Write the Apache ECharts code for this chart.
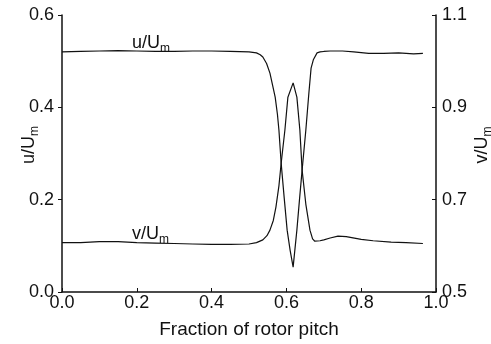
<!DOCTYPE html>
<html>
<head>
<meta charset="utf-8">
<style>
  html, body { margin: 0; padding: 0; background: #fff; }
  #chart { width: 491px; height: 344px; }
</style>
<script src="https://cdn.jsdelivr.net/npm/echarts@6/dist/echarts.min.js"></script>
</head>
<body>
<div id="chart"></div>
<script>
// Axial velocity u/Um across one rotor pitch (left axis)
const uPitch = [0.00, 0.05, 0.10, 0.15, 0.20, 0.25, 0.30, 0.35, 0.40, 0.45, 0.50, 0.52,
  0.530, 0.537, 0.547, 0.556, 0.563, 0.570, 0.576, 0.580, 0.586, 0.594, 0.602, 0.610, 0.618,
  0.628, 0.635, 0.642, 0.652, 0.660, 0.666, 0.672, 0.682, 0.69, 0.70, 0.717, 0.75, 0.78,
  0.82, 0.86, 0.90, 0.94, 0.965];
const uValues = [0.520, 0.521, 0.522, 0.523, 0.522, 0.521, 0.521, 0.522, 0.522, 0.521, 0.520, 0.518,
  0.514, 0.509, 0.495, 0.474, 0.448, 0.422, 0.385, 0.351, 0.279, 0.205, 0.134, 0.090, 0.054,
  0.134, 0.200, 0.264, 0.351, 0.430, 0.485, 0.503, 0.518, 0.520, 0.521, 0.522, 0.522, 0.520,
  0.517, 0.517, 0.518, 0.516, 0.517];

// Tangential velocity v/Um across one rotor pitch (right axis)
const vPitch = [0.00, 0.05, 0.10, 0.15, 0.20, 0.25, 0.30, 0.35, 0.40, 0.45, 0.50, 0.52,
  0.537, 0.548, 0.556, 0.565, 0.572, 0.580, 0.586, 0.596, 0.604, 0.618, 0.628, 0.636,
  0.642, 0.652, 0.663, 0.670, 0.676, 0.69, 0.70, 0.717, 0.738, 0.76, 0.80, 0.832, 0.88,
  0.92, 0.965];
const vValues = [0.607, 0.607, 0.609, 0.609, 0.607, 0.606, 0.605, 0.604, 0.603, 0.603, 0.604, 0.607,
  0.613, 0.622, 0.634, 0.655, 0.684, 0.730, 0.779, 0.851, 0.922, 0.953, 0.922, 0.851,
  0.764, 0.690, 0.634, 0.615, 0.610, 0.611, 0.613, 0.617, 0.621, 0.620, 0.614, 0.611, 0.608,
  0.607, 0.605];

const xTitle = 'Fraction of rotor pitch';
const leftTitle = ['u/U', 'm'];
const rightTitle = ['v/U', 'm'];

const FONT = '"Liberation Sans", Arial, Helvetica, sans-serif';
const INK = '#111';

const pairs = (xs, ys) => xs.map((x, i) => [x, ys[i]]);

// main text plus a lowered, smaller subscript
const subRich = {
  a: { fontSize: 18, lineHeight: 22, fontFamily: FONT, fill: INK, color: INK, verticalAlign: 'bottom' },
  s: { fontSize: 12, lineHeight: 12, fontFamily: FONT, fill: INK, color: INK, verticalAlign: 'bottom', padding: [0, 0, -3, 0] }
};
const subText = (parts) => '{a|' + parts[0] + '}{s|' + parts[1] + '}';

const chart = echarts.init(document.getElementById('chart'), null, { renderer: 'canvas' });

const axisLine = { show: true, lineStyle: { color: INK, width: 1.5 } };
const tickLabel = (dec) => ({
  color: INK, fontSize: 18, fontFamily: FONT,
  formatter: (v) => v.toFixed(dec)
});

chart.setOption({
  animation: false,
  backgroundColor: '#fff',
  grid: { left: 62, right: 55, top: 15, bottom: 52, containLabel: false },
  xAxis: {
    type: 'value', min: 0, max: 1, interval: 0.2,
    name: xTitle, nameLocation: 'middle', nameGap: 28,
    nameTextStyle: { color: INK, fontSize: 19, fontFamily: FONT },
    axisLine: axisLine,
    axisTick: { show: true, inside: true, length: 4, lineStyle: { color: INK, width: 1 } },
    axisLabel: Object.assign(tickLabel(1), { margin: 2 }),
    splitLine: { show: false }
  },
  yAxis: [
    {
      type: 'value', min: 0, max: 0.6, interval: 0.2, position: 'left',
      axisLine: axisLine,
      axisTick: { show: true, inside: false, length: 4, lineStyle: { color: INK, width: 1 } },
      axisLabel: Object.assign(tickLabel(1), { margin: 8 }),
      splitLine: { show: false }
    },
    {
      type: 'value', min: 0.5, max: 1.1, interval: 0.2, position: 'right',
      axisLine: axisLine,
      axisTick: { show: true, inside: true, length: 4, lineStyle: { color: INK, width: 1 } },
      axisLabel: Object.assign(tickLabel(1), { margin: 6 }),
      splitLine: { show: false }
    }
  ],
  graphic: [
    { type: 'text', x: 27, y: 145, rotation: Math.PI / 2,
      style: { text: subText(leftTitle), rich: subRich, align: 'center', verticalAlign: 'middle' } },
    { type: 'text', x: 480, y: 145, rotation: Math.PI / 2,
      style: { text: subText(rightTitle), rich: subRich, align: 'center', verticalAlign: 'middle' } },
    { type: 'text', x: 132, y: 30,
      style: { text: subText(['u/U', 'm']), rich: subRich, align: 'left', verticalAlign: 'top' } },
    { type: 'text', x: 132, y: 221,
      style: { text: subText(['v/U', 'm']), rich: subRich, align: 'left', verticalAlign: 'top' } }
  ],
  series: [
    {
      name: 'u/Um', type: 'line', yAxisIndex: 0, data: pairs(uPitch, uValues),
      showSymbol: false, smooth: false, lineStyle: { color: INK, width: 1.2 }
    },
    {
      name: 'v/Um', type: 'line', yAxisIndex: 1, data: pairs(vPitch, vValues),
      showSymbol: false, smooth: false, lineStyle: { color: INK, width: 1.2 }
    }
  ]
});
</script>
</body>
</html>
